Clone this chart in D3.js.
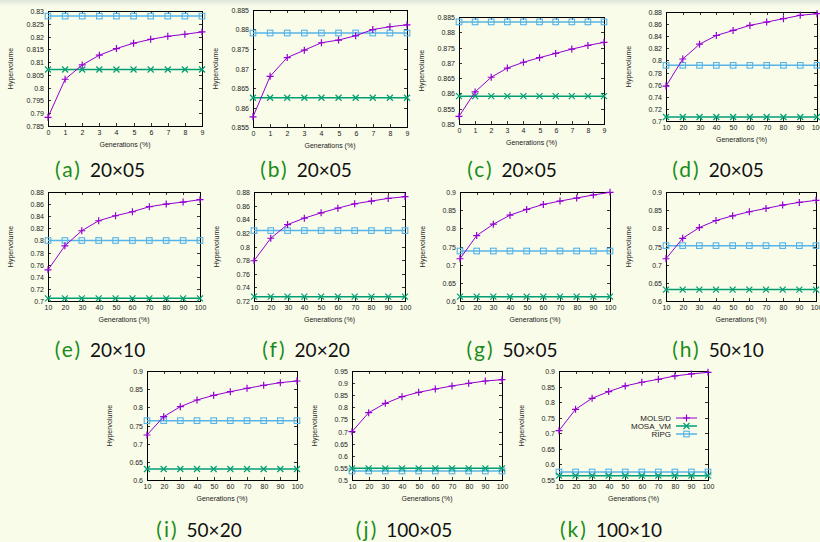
<!DOCTYPE html>
<html>
<head>
<meta charset="utf-8">
<script src="https://cdn.jsdelivr.net/npm/d3@7"></script>
<style>
  html, body { margin: 0; padding: 0; background: #f9fce9; }
  svg { display: block; }
</style>
</head>
<body>
<div id="chart"></div>
<script>
// Hypervolume vs generations, 11 small panels

const width = 820;
const height = 542;

// --- data ---
const panelLetters = ["(a)", "(b)", "(c)", "(d)", "(e)", "(f)", "(g)", "(h)", "(i)", "(j)", "(k)"];
const instances = ["20×05", "20×05", "20×05", "20×05", "20×10", "20×20", "50×05", "50×10", "50×20", "100×05", "100×10"];
const seriesNames = ["MOLS/D", "MOSA_VM", "RIPG"];

const genShort = [0, 1, 2, 3, 4, 5, 6, 7, 8, 9];
const genPct = [10, 20, 30, 40, 50, 60, 70, 80, 90, 100];

const molsd = [
  [0.7884, 0.8033, 0.8089, 0.8127, 0.8153, 0.8174, 0.8189, 0.8201, 0.8209, 0.8218],
  [0.8576, 0.8680, 0.8728, 0.8747, 0.8766, 0.8773, 0.8784, 0.8800, 0.8807, 0.8812],
  [0.8525, 0.8605, 0.8653, 0.8683, 0.8702, 0.8717, 0.8731, 0.8745, 0.8757, 0.8767],
  [0.7576, 0.8024, 0.8268, 0.8412, 0.8495, 0.8579, 0.8634, 0.8689, 0.8745, 0.8772],
  [0.7514, 0.7911, 0.8160, 0.8325, 0.8408, 0.8474, 0.8557, 0.8601, 0.8634, 0.8673],
  [0.7791, 0.8121, 0.8322, 0.8416, 0.8494, 0.8563, 0.8627, 0.8667, 0.8706, 0.8731],
  [0.7163, 0.7800, 0.8114, 0.8363, 0.8520, 0.8658, 0.8751, 0.8834, 0.8917, 0.8991],
  [0.7163, 0.7726, 0.8022, 0.8216, 0.8345, 0.8456, 0.8548, 0.8640, 0.8714, 0.8770],
  [0.7239, 0.7743, 0.8018, 0.8202, 0.8330, 0.8431, 0.8523, 0.8606, 0.8679, 0.8725],
  [0.6995, 0.7780, 0.8165, 0.8440, 0.8619, 0.8757, 0.8881, 0.8991, 0.9087, 0.9142],
  [0.7085, 0.7770, 0.8124, 0.8338, 0.8520, 0.8638, 0.8734, 0.8841, 0.8906, 0.8957]
];
// flat reference lines, one value per panel
const mosaVM = [0.8071, 0.8625, 0.8591, 0.7066, 0.7044, 0.7264, 0.6120, 0.6314, 0.6303, 0.5482, 0.5639];
const ripg   = [0.8280, 0.8791, 0.8834, 0.7919, 0.7999, 0.8234, 0.7376, 0.7524, 0.7633, 0.5372, 0.5757];

// y axis ranges and tick steps per panel
const yLow  = [0.785, 0.855, 0.85, 0.70, 0.70, 0.72, 0.60, 0.60, 0.60, 0.50, 0.55];
const yHigh = [0.83, 0.885, 0.885, 0.88, 0.88, 0.88, 0.90, 0.90, 0.90, 0.95, 0.90];
const yStep = [0.005, 0.005, 0.005, 0.02, 0.02, 0.02, 0.05, 0.05, 0.05, 0.05, 0.05];

// --- layout: plot frames [left, top, right, bottom] and caption centres ---
const frames = [
  [48, 11, 202, 126], [253, 10, 407, 127], [459, 17, 604, 124], [666, 12, 817, 121],
  [48, 192, 200, 301], [254, 192, 405, 301], [460, 192, 610, 301], [666, 192, 816, 301],
  [147, 371, 297, 480], [352, 371, 502, 480], [559, 371, 708, 480]
];
const captionX = [100, 306, 512, 718, 100, 306, 512, 718, 199, 404, 611];
const captionY = [177, 177, 177, 177, 357, 357, 357, 357, 537, 537, 537];

const colors = ["#9400d3", "#009e73", "#56b4e9"];

const svg = d3.select("#chart").append("svg")
  .attr("width", width)
  .attr("height", height);

// background with the thin darker band at the top
const defs = svg.append("defs");
const grad = defs.append("linearGradient").attr("id", "topband")
  .attr("x1", 0).attr("y1", 0).attr("x2", 0).attr("y2", 1);
grad.append("stop").attr("offset", "0%").attr("stop-color", "#dfe5da");
grad.append("stop").attr("offset", "100%").attr("stop-color", "#f9fce9");
svg.append("rect").attr("width", width).attr("height", height).attr("fill", "#f9fce9");
svg.append("rect").attr("width", width).attr("height", 6).attr("fill", "url(#topband)");

const fmt = v => String(+v.toFixed(4));
const tickFont = "Liberation Sans, Arial, sans-serif";

function drawMarker(g, kind, x, y, color) {
  if (kind === 0) {
    g.append("path").attr("d", `M${x-3.5},${y}h7M${x},${y-3.5}v7`)
      .attr("stroke", color).attr("stroke-width", 1.2).attr("fill", "none");
  } else if (kind === 1) {
    g.append("path").attr("d", `M${x-3},${y-3}l6,6M${x-3},${y+3}l6,-6`)
      .attr("stroke", color).attr("stroke-width", 1.2).attr("fill", "none");
  } else {
    g.append("rect").attr("x", x - 2.8).attr("y", y - 2.8).attr("width", 5.6).attr("height", 5.6)
      .attr("stroke", color).attr("stroke-width", 1.1).attr("fill", "none");
  }
}

panelLetters.forEach((letter, p) => {
  const [l, t, r, b] = frames[p];
  const xs = p < 3 ? genShort : genPct;
  const g = svg.append("g");

  const x = d3.scaleLinear().domain([xs[0], xs[xs.length - 1]]).range([l, r]);
  const y = d3.scaleLinear().domain([yLow[p], yHigh[p]]).range([b, t]);
  const yTicks = d3.range(yLow[p], yHigh[p] + yStep[p] / 2, yStep[p]);

  // ticks inside on all four sides (gnuplot style mirror)
  const tk = 3;
  yTicks.forEach(v => {
    const yy = Math.round(y(v)) + 0.5;
    g.append("path").attr("d", `M${l},${yy}h${tk}M${r},${yy}h${-tk}`)
      .attr("stroke", "#000").attr("stroke-width", 0.8);
    g.append("text").attr("x", l - 4).attr("y", yy).attr("dy", "0.35em")
      .attr("text-anchor", "end").attr("font-family", tickFont)
      .attr("font-size", 7).attr("fill", "#222").text(fmt(v));
  });
  xs.forEach(v => {
    const xx = Math.round(x(v)) + 0.5;
    g.append("path").attr("d", `M${xx},${b}v${-tk}M${xx},${t}v${tk}`)
      .attr("stroke", "#000").attr("stroke-width", 0.8);
    g.append("text").attr("x", xx).attr("y", b + 9)
      .attr("text-anchor", "middle").attr("font-family", tickFont)
      .attr("font-size", 7).attr("fill", "#222").text(v);
  });

  // frame
  g.append("rect").attr("x", l + 0.5).attr("y", t + 0.5).attr("width", r - l).attr("height", b - t)
    .attr("fill", "none").attr("stroke", "#000").attr("stroke-width", 1);

  // axis titles
  g.append("text").attr("x", (l + r) / 2).attr("y", b + 21)
    .attr("text-anchor", "middle").attr("font-family", tickFont)
    .attr("font-size", 7).attr("fill", "#222").text("Generations (%)");
  g.append("text")
    .attr("transform", `translate(${l - 35},${(t + b) / 2}) rotate(-90)`)
    .attr("text-anchor", "middle").attr("font-family", tickFont)
    .attr("font-size", 7).attr("fill", "#222").text("Hypervolume");

  // series: flat lines first, MOLS/D on top
  const series = [
    molsd[p],
    xs.map(() => mosaVM[p]),
    xs.map(() => ripg[p])
  ];
  const line = d3.line().x((d, i) => x(xs[i])).y(d => y(d));
  [2, 1, 0].forEach(s => {
    g.append("path").attr("d", line(series[s]))
      .attr("fill", "none").attr("stroke", colors[s])
      .attr("stroke-width", s === 0 ? 1 : 1.5);
    series[s].forEach((d, i) => drawMarker(g, s, x(xs[i]), y(d), colors[s]));
  });

  // caption
  const cap = g.append("text").attr("x", captionX[p]).attr("y", captionY[p])
    .attr("text-anchor", "middle").attr("font-family", "Lato, sans-serif");
  cap.append("tspan").attr("fill", "#1a8c1a").attr("font-size", 21)
    .attr("letter-spacing", 2).text(letter);
  cap.append("tspan").attr("fill", "#111").attr("font-size", 19)
    .attr("dx", 8).text(instances[p]);

  // legend in last panel
  if (p === panelLetters.length - 1) {
    seriesNames.forEach((name, s) => {
      const ly = 418 + s * 8;
      g.append("text").attr("x", 671).attr("y", ly).attr("dy", "0.35em")
        .attr("text-anchor", "end").attr("font-family", tickFont)
        .attr("font-size", 8).attr("fill", "#222").text(name);
      g.append("path").attr("d", `M676,${ly}H697`)
        .attr("stroke", colors[s]).attr("stroke-width", s === 0 ? 1 : 1.5);
      drawMarker(g, s, 686.5, ly, colors[s]);
    });
  }
});
</script>
</body>
</html>
